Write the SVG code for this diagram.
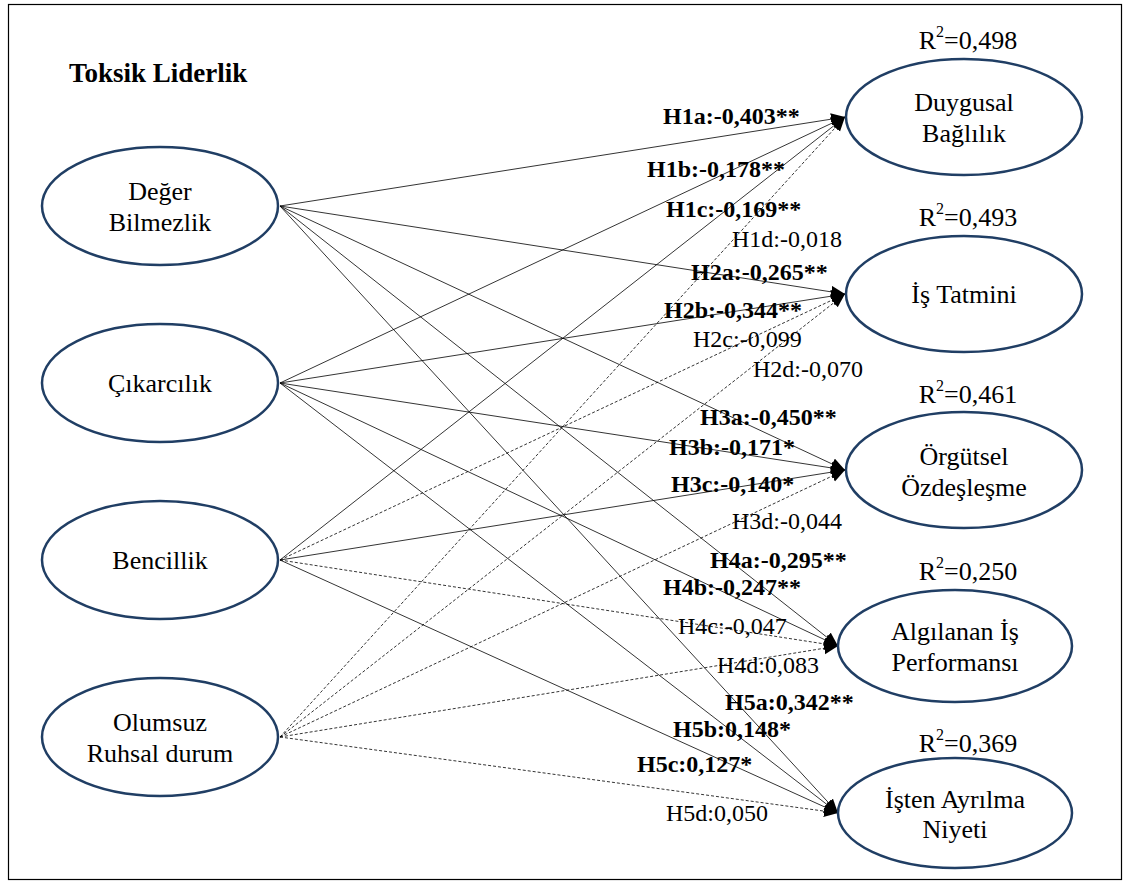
<svg xmlns="http://www.w3.org/2000/svg" width="1128" height="886" viewBox="0 0 1128 886">
<defs>
<marker id="ah" markerUnits="userSpaceOnUse" markerWidth="16" markerHeight="14" refX="14" refY="6" orient="auto">
<path d="M0,0 L14,6 L0,12 z" fill="#000"/>
</marker>
<style>
.node ellipse{fill:#fff;stroke:#203e64;stroke-width:2.5}
.nt{font-family:"Liberation Serif","Times New Roman",serif;font-size:26px;fill:#000;text-anchor:middle}
.lb{font-family:"Liberation Serif","Times New Roman",serif;font-size:24px;fill:#000}
.b{font-weight:bold}
.s{stroke:#000;stroke-width:0.8;fill:none;marker-end:url(#ah)}
.d{stroke:#000;stroke-width:0.8;fill:none;stroke-dasharray:3,2;marker-end:url(#ah)}
</style>
</defs>
<rect x="0" y="0" width="1128" height="886" fill="#fff"/>
<rect x="8.5" y="4.5" width="1113" height="875" fill="none" stroke="#000" stroke-width="1.2"/>
<text x="69" y="82" class="nt b" style="text-anchor:start;font-size:27px">Toksik Liderlik</text>

<g id="connectors">
<line class="s" x1="280" y1="206" x2="845" y2="117"/>
<line class="s" x1="280" y1="383" x2="845" y2="117"/>
<line class="s" x1="280" y1="560" x2="845" y2="117"/>
<line class="d" x1="280" y1="737" x2="845" y2="117"/>
<line class="s" x1="280" y1="206" x2="845" y2="294"/>
<line class="s" x1="280" y1="383" x2="845" y2="294"/>
<line class="d" x1="280" y1="560" x2="845" y2="294"/>
<line class="d" x1="280" y1="737" x2="845" y2="294"/>
<line class="s" x1="280" y1="206" x2="845" y2="470"/>
<line class="s" x1="280" y1="383" x2="845" y2="470"/>
<line class="s" x1="280" y1="560" x2="845" y2="470"/>
<line class="d" x1="280" y1="737" x2="845" y2="470"/>
<line class="s" x1="280" y1="206" x2="838" y2="646"/>
<line class="s" x1="280" y1="383" x2="838" y2="646"/>
<line class="d" x1="280" y1="560" x2="838" y2="646"/>
<line class="d" x1="280" y1="737" x2="838" y2="646"/>
<line class="s" x1="280" y1="206" x2="838" y2="813"/>
<line class="s" x1="280" y1="383" x2="838" y2="813"/>
<line class="s" x1="280" y1="560" x2="838" y2="813"/>
<line class="d" x1="280" y1="737" x2="838" y2="813"/>
</g>

<g id="labels">
<text class="lb b" x="663" y="124">H1a:-0,403**</text>
<text class="lb b" x="647" y="177">H1b:-0,178**</text>
<text class="lb b" x="666" y="217">H1c:-0,169**</text>
<text class="lb" x="732" y="247">H1d:-0,018</text>
<text class="lb b" x="691" y="280">H2a:-0,265**</text>
<text class="lb b" x="664" y="318">H2b:-0,344**</text>
<text class="lb" x="693" y="347">H2c:-0,099</text>
<text class="lb" x="753" y="377">H2d:-0,070</text>
<text class="lb b" x="700" y="425">H3a:-0,450**</text>
<text class="lb b" x="669" y="455">H3b:-0,171*</text>
<text class="lb b" x="671" y="492">H3c:-0,140*</text>
<text class="lb" x="732" y="529">H3d:-0,044</text>
<text class="lb b" x="710" y="568">H4a:-0,295**</text>
<text class="lb b" x="663" y="595">H4b:-0,247**</text>
<text class="lb" x="678" y="634">H4c:-0,047</text>
<text class="lb" x="717" y="673">H4d:0,083</text>
<text class="lb b" x="725" y="710">H5a:0,342**</text>
<text class="lb b" x="673" y="737">H5b:0,148*</text>
<text class="lb b" x="637" y="772">H5c:0,127*</text>
<text class="lb" x="666" y="821">H5d:0,050</text>
</g>

<g id="n-deger" class="node">
<ellipse cx="160" cy="206" rx="118" ry="59"/>
<text class="nt" x="160" y="200">Değer</text>
<text class="nt" x="160" y="231">Bilmezlik</text>
</g>
<g id="n-cikarcilik" class="node">
<ellipse cx="160" cy="383" rx="118" ry="59"/>
<text class="nt" x="160" y="392">Çıkarcılık</text>
</g>
<g id="n-bencillik" class="node">
<ellipse cx="160" cy="560" rx="118" ry="59"/>
<text class="nt" x="160" y="569">Bencillik</text>
</g>
<g id="n-olumsuz" class="node">
<ellipse cx="160" cy="737" rx="118" ry="59"/>
<text class="nt" x="160" y="731">Olumsuz</text>
<text class="nt" x="160" y="762">Ruhsal durum</text>
</g>

<g id="n-duygusal" class="node">
<ellipse cx="964" cy="117" rx="118" ry="58"/>
<text class="nt" x="964" y="111">Duygusal</text>
<text class="nt" x="964" y="142">Bağlılık</text>
<text class="nt" x="968" y="49">R<tspan font-size="16" dy="-12">2</tspan><tspan dy="12">=0,498</tspan></text>
</g>
<g id="n-istatmini" class="node">
<ellipse cx="964" cy="294" rx="118" ry="58"/>
<text class="nt" x="964" y="303">İş Tatmini</text>
<text class="nt" x="968" y="226">R<tspan font-size="16" dy="-12">2</tspan><tspan dy="12">=0,493</tspan></text>
</g>
<g id="n-orgutsel" class="node">
<ellipse cx="964" cy="470" rx="118" ry="58"/>
<text class="nt" x="964" y="465">Örgütsel</text>
<text class="nt" x="964" y="496">Özdeşleşme</text>
<text class="nt" x="968" y="403">R<tspan font-size="16" dy="-12">2</tspan><tspan dy="12">=0,461</tspan></text>
</g>
<g id="n-performans" class="node">
<ellipse cx="955" cy="646" rx="117" ry="56"/>
<text class="nt" x="955" y="640">Algılanan İş</text>
<text class="nt" x="955" y="671">Performansı</text>
<text class="nt" x="968" y="580">R<tspan font-size="16" dy="-12">2</tspan><tspan dy="12">=0,250</tspan></text>
</g>
<g id="n-ayrilma" class="node">
<ellipse cx="955" cy="813" rx="117" ry="55"/>
<text class="nt" x="955" y="808">İşten Ayrılma</text>
<text class="nt" x="955" y="838">Niyeti</text>
<text class="nt" x="968" y="752">R<tspan font-size="16" dy="-12">2</tspan><tspan dy="12">=0,369</tspan></text>
</g>
</svg>
